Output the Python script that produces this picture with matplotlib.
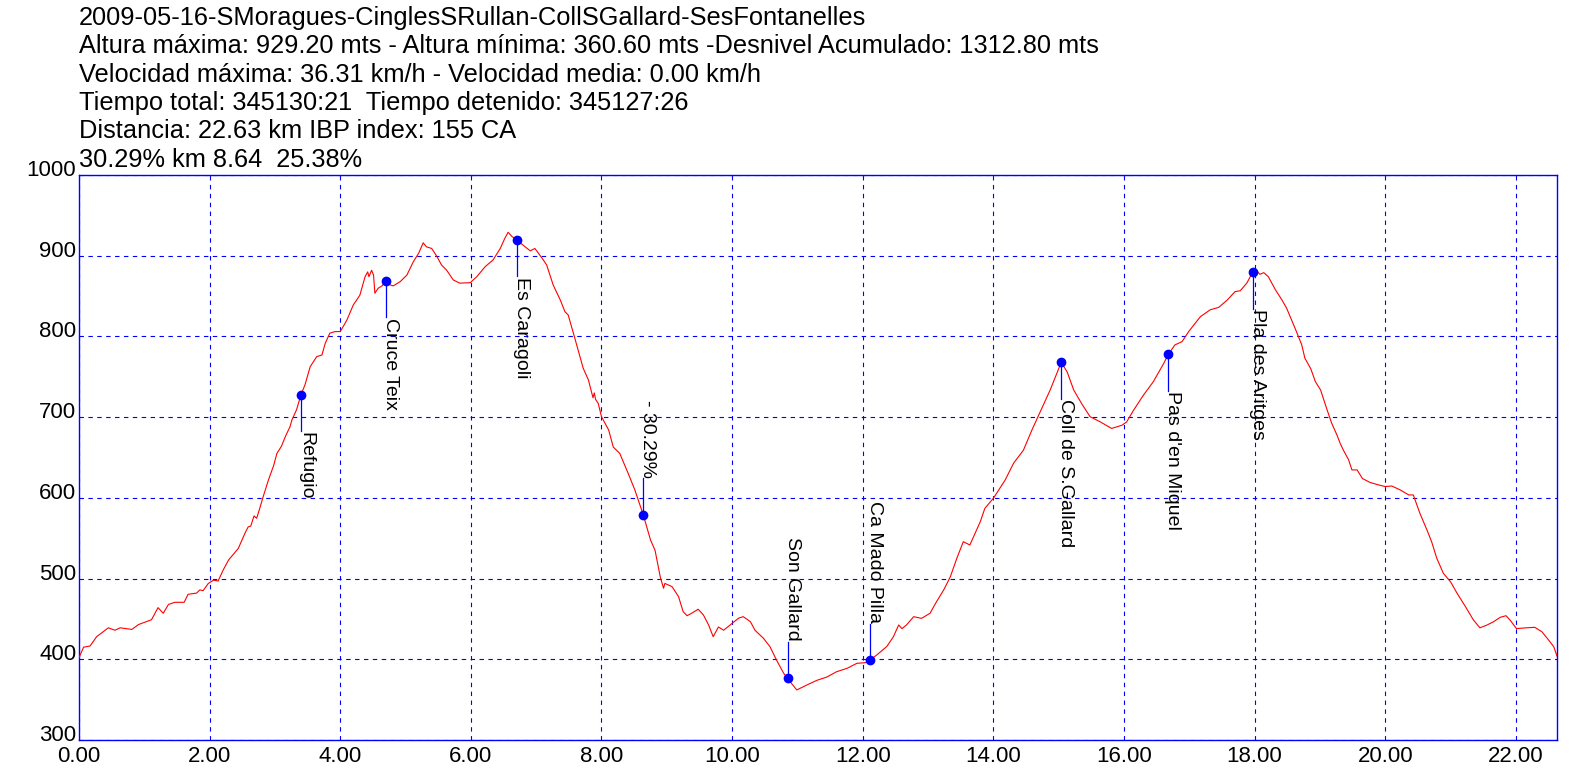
import matplotlib
matplotlib.use("Agg")
import matplotlib.pyplot as plt
import matplotlib.transforms as mtransforms

plt.rcParams["font.family"] = ["Liberation Sans", "DejaVu Sans"]

# elevation profile (km, metres)
km = [
    0.00, 0.07, 0.17, 0.27, 0.45, 0.55, 0.63, 0.81, 0.91, 1.11, 1.21, 1.29, 1.37, 1.47,
    1.61, 1.67, 1.80, 1.85, 1.90, 1.98, 2.06, 2.13, 2.21, 2.29, 2.44, 2.54, 2.59, 2.63,
    2.68, 2.72, 2.76, 2.82, 2.90, 2.98, 3.03, 3.10, 3.16, 3.23, 3.26, 3.33, 3.40, 3.46,
    3.54, 3.64, 3.72, 3.77, 3.84, 3.92, 4.00, 4.10, 4.20, 4.30, 4.38, 4.42, 4.44, 4.48,
    4.51, 4.53, 4.58, 4.64, 4.70, 4.76, 4.81, 4.92, 5.02, 5.12, 5.20, 5.27, 5.32, 5.40,
    5.48, 5.55, 5.63, 5.73, 5.83, 5.99, 6.09, 6.22, 6.34, 6.45, 6.52, 6.57, 6.63, 6.70,
    6.80, 6.91, 6.98, 7.09, 7.16, 7.26, 7.37, 7.44, 7.49, 7.57, 7.67, 7.72, 7.80, 7.87,
    7.89, 7.91, 7.95, 8.00, 8.11, 8.18, 8.28, 8.41, 8.51, 8.59, 8.64, 8.75, 8.82, 8.90,
    8.95, 8.97, 9.08, 9.18, 9.25, 9.31, 9.38, 9.48, 9.56, 9.64, 9.71, 9.79, 9.87, 9.97,
    10.10, 10.17, 10.28, 10.35, 10.48, 10.58, 10.68, 10.79, 10.85, 10.91, 10.99, 11.04,
    11.14, 11.30, 11.45, 11.60, 11.76, 11.91, 12.04, 12.11, 12.21, 12.37, 12.47, 12.55,
    12.60, 12.67, 12.78, 12.90, 13.03, 13.13, 13.24, 13.34, 13.44, 13.54, 13.64, 13.80,
    13.87, 14.00, 14.10, 14.18, 14.31, 14.46, 14.59, 14.72, 14.87, 14.97, 15.04, 15.13,
    15.23, 15.35, 15.48, 15.64, 15.81, 15.97, 16.04, 16.15, 16.30, 16.45, 16.61, 16.68,
    16.78, 16.89, 16.99, 17.17, 17.32, 17.45, 17.58, 17.70, 17.78, 17.88, 17.97, 18.03,
    18.08, 18.14, 18.21, 18.32, 18.42, 18.49, 18.62, 18.72, 18.77, 18.86, 18.93, 19.01,
    19.11, 19.18, 19.26, 19.31, 19.36, 19.44, 19.49, 19.57, 19.65, 19.77, 19.90, 20.00,
    20.10, 20.23, 20.36, 20.43, 20.53, 20.64, 20.71, 20.79, 20.89, 21.00, 21.10, 21.23,
    21.35, 21.45, 21.56, 21.66, 21.76, 21.85, 21.91, 22.01, 22.16, 22.29, 22.40, 22.50,
    22.58, 22.63,
]
elev = [
    402, 415, 416.5, 428, 439, 436, 439, 437, 443, 449, 464, 457, 468, 470.6,
    470.6, 480.5, 482, 486, 485, 494, 498, 497, 511, 523, 537.5, 556, 564, 565,
    577.6, 574.7, 585, 601.5, 622, 640, 655, 664, 676, 688, 696.5, 709, 728, 740,
    762.6, 775, 777, 791.5, 804, 806, 806, 820, 839, 851, 874, 880, 874, 882,
    876, 853.5, 859.7, 862.6, 868.8, 864, 862.6, 868, 876, 892.7, 903, 916, 911, 909,
    899, 888.6, 882, 870, 866, 866.6, 874, 886.5, 894.8, 909, 921.6, 929, 923.7, 920,
    913, 906, 909, 897, 888.6, 863.8, 845, 830.7, 826.6, 804, 775, 760.6, 746, 724,
    730, 722, 717, 700.6, 684, 663, 655, 630, 610, 591, 578.8, 548, 535, 502,
    488, 494, 490, 477.6, 459, 454, 457, 462, 455, 442.5, 428, 440, 436, 442.5,
    451, 452.8, 446.6, 436, 426, 415.6, 399, 382.6, 376.5, 370, 362, 364,
    368, 374, 378, 384.6, 388.8, 395, 395.8, 399, 405, 416, 428, 442.5,
    438, 442.5, 452.8, 450.7, 457, 471.4, 486, 502, 525, 545.7, 541.6, 570.5,
    587, 599.5, 612, 622, 643, 659, 684, 707, 733.7, 754, 768, 756,
    733.7, 717, 700.6, 694, 686, 690, 694, 709, 727.5, 744, 766.8, 778,
    789.5, 793.6, 806, 824.5, 833, 836, 845, 855.5, 856.6, 866, 879.5, 881.5,
    877, 879, 874, 857.6, 845, 835, 810, 790, 773, 760, 744, 733.7,
    709, 692.5, 678, 667.6, 659, 647, 634.6, 634.6, 624, 619, 616, 614,
    614.7, 609.8, 603.6, 603.6, 581, 560, 545.7, 525, 506.5, 496, 481.8, 465,
    448.7, 439, 442.5, 446.6, 452, 454, 448.7, 438, 439, 439.6, 434, 424,
    415.6, 404,
]

# waypoints
wp_names = ["Refugio", "Cruce Teix", "Es Caragoli", "- 30.29%", "Son Gallard",
            "Ca Mado Pilla", "Coll de S.Gallard", "Pas d'en Miquel", "Pla des Aritges"]
wp_km = [3.40, 4.70, 6.70, 8.64, 10.85, 12.11, 15.04, 16.68, 17.97]
wp_elev = [728, 869, 920, 579, 376.5, 399, 768, 778, 879.5]
wp_below = [True, True, True, False, False, False, True, True, True]

header = [
    "2009-05-16-SMoragues-CinglesSRullan-CollSGallard-SesFontanelles",
    "Altura máxima: 929.20 mts - Altura mínima: 360.60 mts -Desnivel Acumulado: 1312.80 mts",
    "Velocidad máxima: 36.31 km/h - Velocidad media: 0.00 km/h",
    "Tiempo total: 345130:21  Tiempo detenido: 345127:26",
    "Distancia: 22.63 km IBP index: 155 CA",
    "30.29% km 8.64  25.38%",
]

xticks = [0, 2, 4, 6, 8, 10, 12, 14, 16, 18, 20, 22]
yticks = [300, 400, 500, 600, 700, 800, 900, 1000]

W, H = 1596, 778
fig = plt.figure(figsize=(W / 100, H / 100), dpi=100)
ax = fig.add_axes([79 / W, 1 - 740 / H, (1557 - 79) / W, (740 - 175) / H])

ax.plot(km, elev, color="red", lw=0.8, zorder=3)

ax.set_xlim(0, 22.63)
ax.set_ylim(300, 1000)
ax.set_xticks(xticks)
ax.set_xticklabels([f"{v:.2f}" for v in xticks])
ax.set_yticks(yticks)
ax.set_yticklabels([str(v) for v in yticks])
ax.tick_params(axis="both", length=0, labelsize=16, colors="black")
ax.tick_params(axis="x", pad=4)
ax.tick_params(axis="y", pad=2)
# y labels sit a little above their grid line
shift = mtransforms.ScaledTranslation(0, 7 / 100, fig.dpi_scale_trans)
for t in ax.yaxis.get_major_ticks():
    t.label1.set_transform(t.label1.get_transform() + shift)

ax.grid(True, color="blue", lw=0.8, linestyle=(0, (4, 4)))
ax.set_axisbelow(True)
for sp in ax.spines.values():
    sp.set_color("blue")
    sp.set_linewidth(1.0)

# waypoint markers with leader lines and vertical labels
lead = 45
for name, x, y, below in zip(wp_names, wp_km, wp_elev, wp_below):
    if below:
        ax.plot([x, x], [y, y - lead], color="blue", lw=0.9, zorder=4)
        ax.text(x, y - lead - 1, name, rotation=270, rotation_mode="anchor",
                ha="left", va="baseline", fontsize=14, zorder=5)
    else:
        ax.plot([x, x], [y, y + lead], color="blue", lw=0.9, zorder=4)
        ax.text(x, y + lead + 1, name, rotation=270, rotation_mode="anchor",
                ha="right", va="baseline", fontsize=14, zorder=5)
    ax.plot(x, y, "o", color="blue", ms=6, zorder=6)

line_y = [18, 46, 75, 103, 131, 160]
for s, yy in zip(header, line_y):
    fig.text(79 / W, 1 - yy / H, s, ha="left", va="center", fontsize=18.3)

fig.savefig("out.png", dpi=100, facecolor="white")
